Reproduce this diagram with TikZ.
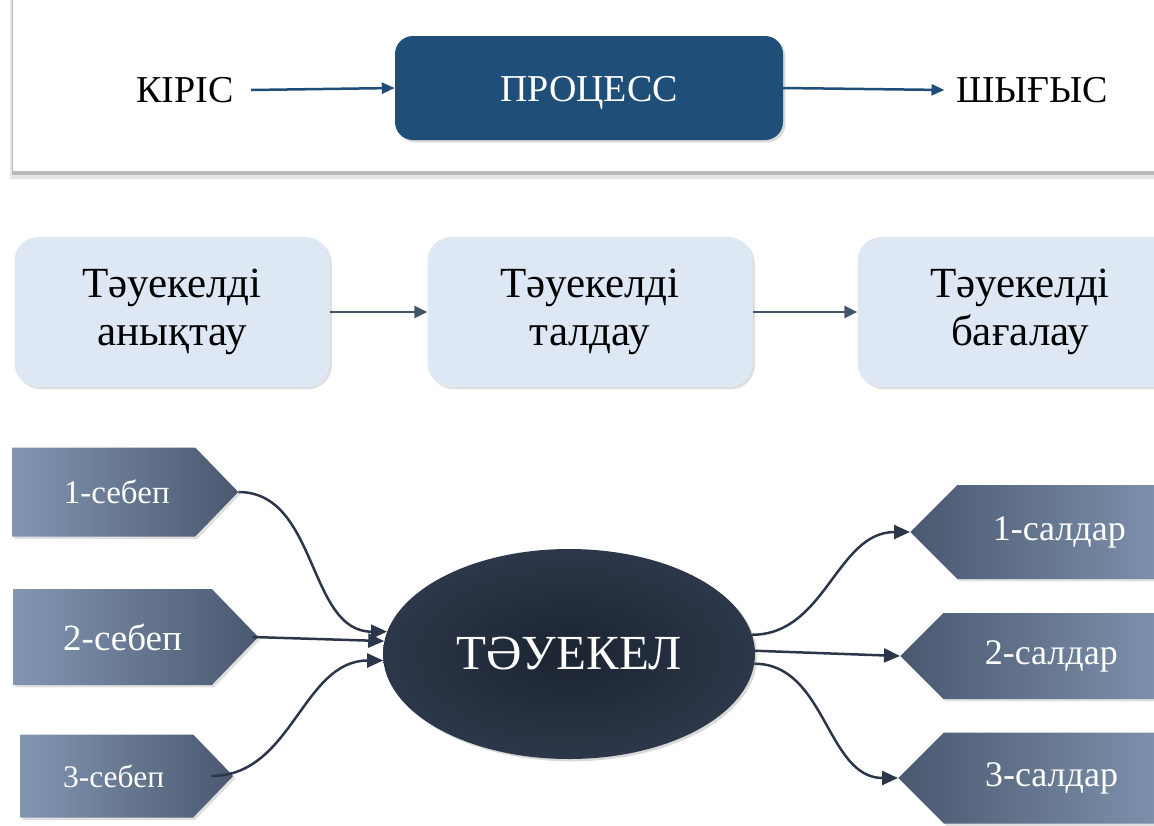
\documentclass[tikz,border=0pt]{standalone}
\usepackage{fontspec}
\setmainfont{Liberation Serif}
\usetikzlibrary{positioning,shapes.geometric,shapes.symbols,arrows.meta,shadows}

\definecolor{procblue}{HTML}{1F4E79}
\definecolor{stepfill}{HTML}{DEE8F4}
\definecolor{stepline}{HTML}{44546A}
\definecolor{tagdark}{HTML}{4A5870}
\definecolor{taglight}{HTML}{8396B1}
\definecolor{coreout}{HTML}{2C3749}
\definecolor{corein}{HTML}{1C2431}
\definecolor{linkcol}{HTML}{2B3748}

\tikzset{
  iotext/.style = {font=\fontsize{38}{40}\selectfont},
  proc/.style = {rounded corners=18pt, fill=procblue, text=white,
    minimum width=388pt, minimum height=104pt, text height=26pt, text depth=0pt,
    font=\fontsize{38}{40}\selectfont, drop shadow={opacity=0.3}},
  stepbox/.style = {rounded corners=24pt, fill=stepfill, minimum height=150pt,
    align=center, font=\fontsize{43}{48}\selectfont, drop shadow={opacity=0.25}},
  cause/.style = {signal, signal to=east, signal pointer angle=92,
    left color=taglight, right color=tagdark, text=white,
    drop shadow={opacity=0.25}},
  effect/.style = {signal, signal to=west, signal pointer angle=90,
    left color=tagdark, right color=taglight, text=white,
    font=\fontsize{36}{38}\selectfont, drop shadow={opacity=0.25}},
  core/.style = {ellipse, inner color=corein, outer color=coreout, text=white,
    minimum width=372pt, minimum height=210pt,
    font=\fontsize{49}{50}\selectfont, drop shadow={opacity=0.3}},
  flow/.style = {-{Triangle[length=13pt,width=11pt]}, line width=2.5pt, draw=procblue},
  steparrow/.style = {-{Triangle[length=13pt,width=12pt]}, line width=2.5pt, draw=stepline},
  linkarrow/.style = {-{Triangle[length=16pt,width=14pt]}, line width=2.5pt, draw=linkcol},
}

\begin{document}
\begin{tikzpicture}[x=1pt, y=-1pt]
\useasboundingbox (0,0) rectangle (1154,825);

% top frame
\fill[black!10] (10,-10) rectangle (1170,179);
\fill[black!28] (12,-10) rectangle (1170,175);
\fill[white] (13,-10) rectangle (1170,171);

% input / process / output
\node[iotext] (in) at (185,90) {КІРІС};
\node[proc] (proc) at (589,88) {ПРОЦЕСС};
\node[iotext] (out) at (1032,90) {ШЫҒЫС};
\draw[flow] ([xshift=14pt]in.east) -- (proc.west);
\draw[flow] (proc.east) -- ([xshift=-8pt]out.west);

% risk steps
\node[stepbox, minimum width=315pt] (find) at (172,312) {Тәуекелді\\анықтау};
\node[stepbox, minimum width=325pt] (analyse) at (590,312) {Тәуекелді\\талдау};
\node[stepbox, minimum width=325pt] (assess) at (1020,312) {Тәуекелді\\бағалау};
\draw[steparrow] (find) -- (analyse);
\draw[steparrow] (analyse) -- (assess);

% risk with causes and effects
\node[core] (risk) at (569,654) {ТӘУЕКЕЛ};

\node[cause, minimum width=226pt, minimum height=89pt, anchor=west,
  font=\fontsize{33}{34}\selectfont] (c1) at (12,492) {\hspace*{26pt}1-себеп};
\node[cause, minimum width=245pt, minimum height=96pt, anchor=west,
  font=\fontsize{37}{38}\selectfont] (c2) at (13,637) {\hspace*{20pt}2-себеп};
\node[cause, minimum width=213pt, minimum height=83pt, anchor=west,
  font=\fontsize{31.5}{33}\selectfont] (c3) at (20,776) {\hspace*{14pt}3-себеп};

\node[effect, minimum width=275pt, minimum height=94pt, anchor=west] (e1) at (910,532) {1-салдар\hspace*{24pt}};
\node[effect, minimum width=285pt, minimum height=86pt, anchor=west] (e2) at (900,656) {2-салдар\hspace*{26pt}};
\node[effect, minimum width=287pt, minimum height=91pt, anchor=west] (e3) at (898,778) {3-салдар\hspace*{26pt}};

\draw[linkarrow] (c1.east) to[out=0, in=180] (risk.173);
\draw[linkarrow] ([xshift=-6pt]c2.east) -- (risk.176);
\draw[linkarrow] ([xshift=-22pt]c3.east) to[out=0, in=180] (risk.182);

\draw[linkarrow] (risk.6) to[out=0, in=180] (e1.west);
\draw[linkarrow] (risk.1) -- (e2.west);
\draw[linkarrow] (risk.-3) to[out=0, in=180] (e3.west);
\end{tikzpicture}
\end{document}
